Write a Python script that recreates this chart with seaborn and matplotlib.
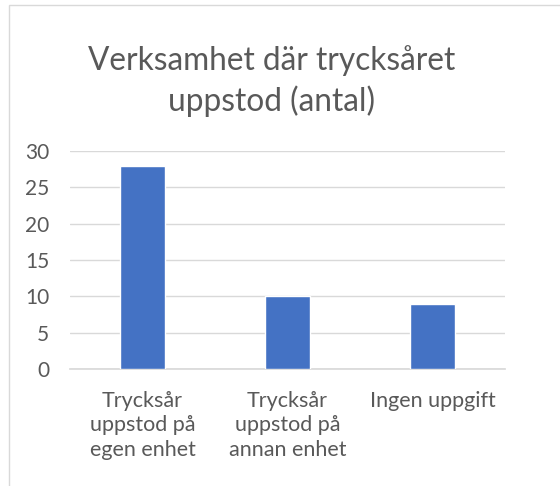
import matplotlib
matplotlib.use("Agg")
import matplotlib.pyplot as plt
import seaborn as sns
import pandas as pd
from matplotlib.patches import Rectangle

categories = ["Trycksår\nuppstod på\negen enhet", "Trycksår\nuppstod på\nannan enhet", "Ingen uppgift"]
values = [28, 10, 9]
yticks = [0, 5, 10, 15, 20, 25, 30]
title = "Verksamhet där trycksåret\nuppstod (antal)"

sns.set_theme(style="white")
plt.rcParams['font.family'] = ['Lato', 'DejaVu Sans']

df = pd.DataFrame({"cat": categories, "val": values})
fig = plt.figure(figsize=(5.6, 4.86), dpi=100)
ax = fig.add_axes([0.125, 0.241, 0.777, 0.448])
sns.barplot(data=df, x="cat", y="val", color="#4472C4", width=0.31, saturation=1, ax=ax, zorder=3)
ax.set_ylim(0, 30)
ax.set_yticks(yticks)
ax.grid(axis="y", color="#D9D9D9", linewidth=1, zorder=0)
ax.set_axisbelow(True)
for s in ["top", "right", "left"]:
    ax.spines[s].set_visible(False)
ax.spines["bottom"].set_color("#D9D9D9")
ax.set_xlabel("")
ax.set_ylabel("")
ax.tick_params(axis="y", length=0, labelsize=15, colors="#595959", pad=15)
ax.tick_params(axis="x", length=0, labelsize=15.5, colors="#595959", pad=16)
for lab in ax.get_xticklabels():
    lab.set_linespacing(1.27)
ax.set_xlim(-0.5, 2.5)
fig.text(0.485, 0.833, title, ha="center", va="center", fontsize=22.8, color="#595959", linespacing=1.36)
fig.patches.append(Rectangle((9/560, -0.1), 1.2, 1.1 - 5/486, transform=fig.transFigure,
                             fill=False, edgecolor="#D9D9D9", linewidth=1))
fig.savefig("out.png", dpi=100)
